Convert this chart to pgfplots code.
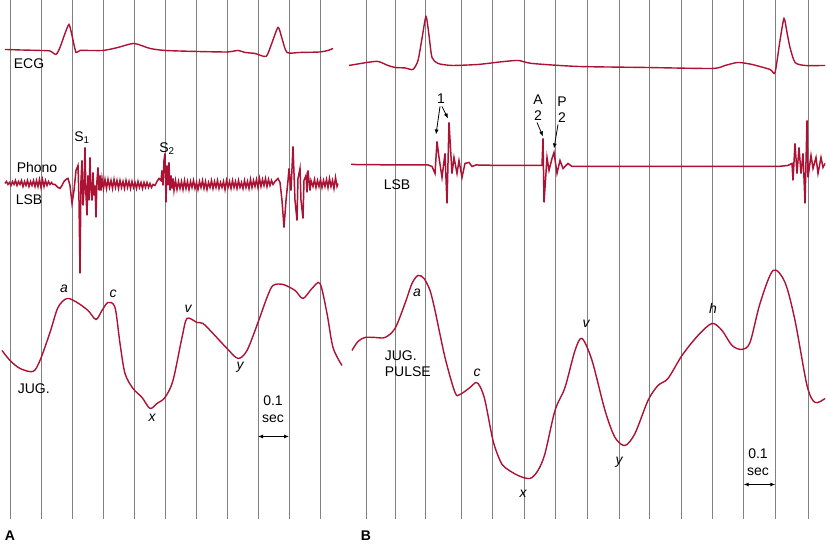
\documentclass[border=0pt]{standalone}
\usepackage{pgfplots}
\pgfplotsset{compat=1.18}
\usepackage{fontspec}
\setmainfont{Liberation Sans}
\usetikzlibrary{arrows.meta}
\definecolor{trace}{RGB}{172,18,52}
\definecolor{gridg}{RGB}{128,128,128}
\begin{document}
\fontsize{14}{16}\selectfont
\begin{tikzpicture}[every node/.style={font=\fontsize{14}{16}\selectfont}]
\begin{axis}[width=827pt,height=541pt,scale only axis,
  xmin=0,xmax=827,ymin=0,ymax=541,y dir=reverse,hide axis,clip=false]
\path (rel axis cs:0,0) rectangle (rel axis cs:1,1);
% grid lines
\addplot[ycomb,gridg,line width=0.9pt,mark=none] coordinates {
(10,519) (41,519) (72,519) (103,519) (134,519) (165,519) (196,519) (227,519) (258,519) (289,519) (320,519)
(366.3,519) (395.3,519) (425.3,519) (461,519) (492.3,519) (524.3,519) (555.3,519) (587.3,519) (619.3,519) (649.3,519) (681.3,519) (712.3,519) (743.7,519) (775.3,519) (808.3,519)};
% ===== Panel A =====
% ECG
\addplot[trace,line width=1.4pt,smooth,tension=0.4] coordinates {
(5,49) (20,49.5) (40,50) (50,50.5) (56,54) (60,47) (65,33) (69,24) (72,35) (76,52) (80,50) (103,50) (118,47) (134,43) (150,48) (165,50) (196,51) (227,51.5) (238,50) (245,52) (255,53) (266,56) (271,45) (278,27) (282,38) (287,52) (300,52) (320,51.5) (328,50) (333,48)};
% Phono
\addplot[trace,line width=1.5pt] coordinates {
(5,183) (6.5,181) (8,184) (9.5,182) (11,185) (12.5,181) (14,184) (15.5,180) (17,185) (18.5,181) (20,184) (21.5,180) (23,186) (24.5,181) (26,185) (27.5,180) (29,186) (30.5,181) (32,185) (33.5,180) (35,186) (36.5,180) (38,186) (39.5,179) (41,187) (42.5,179) (44,186) (45.5,180) (47,185) (48.5,181) (50,184) (51.5,182) (53,184) (55,184) (58,187) (60,188) (62,185) (64,181) (66,179) (68,178) (70,185) (72,203) (74,190) (76,170) (78,165) (79,200) (80,273) (81,180) (82,160) (83,205) (84,190) (85,147) (86,195) (87,215) (88,175) (89,200) (90,157) (91,190) (92,200) (93,172) (94,195) (95,185) (96,217) (97,180) (98,167) (99,190) (100,175) (101,190) (102,178)
(103.5,188) (105,179) (106.5,188) (108,179) (109.5,187) (111,180) (112.5,188) (114,179) (115.5,187) (117,180) (118.5,188) (120,180) (121.5,187) (123,181) (124.5,188) (126,180) (127.5,187) (129,181) (130.5,188) (132,181) (133.5,187) (135,182) (136.5,188) (138,181) (139.5,187) (141,182) (142.5,188) (144,182) (145.5,187) (147,182) (148.5,187) (150,183) (151.5,187) (153,184) (155,185) (157,181) (159,178) (161,180) (162,170) (163,185) (164,160) (165,153) (166,202) (167,165) (168,185) (169,162) (170,190) (171,175) (172,188) (173,178) (174,190) (175.5,180) (177,189) (178.5,181)
(180,188) (181.5,181) (183,189) (184.5,180) (186,188) (187.5,181) (189,189) (190.5,181) (192,187) (193.5,180) (195,188) (196.5,182) (198,189) (199.5,181) (201,187) (202.5,180) (204,188) (205.5,181) (207,189) (208.5,182) (210,187) (211.5,180) (213,188) (214.5,181) (216,187) (217.5,180) (219,188) (220.5,182) (222,187) (223.5,181) (225,189) (226.5,180) (228,187) (229.5,181) (231,188) (232.5,180) (234,187) (235.5,181) (237,188) (238.5,180) (240,187) (241.5,182) (243,188) (244.5,180) (246,187) (247.5,181) (249,188) (250.5,179) (252,187) (253.5,180) (255,186) (256.5,179) (258,187) (259.5,178) (261,186) (262.5,179) (264,185) (265.5,178) (267,186) (268.5,179) (270,185) (271.5,180) (273,184) (275,181)
(278,178) (280,182) (282,200) (284,227) (286,200) (288,180) (289,168) (291,190) (293,146) (295,200) (297,220) (298,178) (300,168) (301,200) (303,218) (304,180) (306,175) (307,192) (308,170) (310,190) (311,180) (313,186)
(314.5,179) (316,187) (317.5,180) (319,186) (320.5,179) (322,187) (323.5,180) (325,186) (326.5,179) (328,187) (329.5,178) (331,186) (332.5,180) (334,188) (335.5,177) (337,186) (338,183)};
% JUG A
\addplot[trace,line width=1.4pt,smooth,tension=0.5] coordinates {
(2,350) (10,360) (20,368) (33,371) (40,360) (50,332) (58,307) (67,298) (77,302) (88,310) (96,319) (102,310) (108,302) (115,307) (120,343) (125,373) (133,388) (142,397) (150,408) (157,403) (165,397) (173,380) (182,337) (187,318) (197,322) (203,323) (213,333) (227,348) (238,358) (247,350) (258,322) (267,297) (273,285) (283,284) (295,290) (303,298) (312,288) (320,283) (327,313) (333,347) (342,365)};
% labels A
\node at (axis cs:29,63) {ECG};
\node at (axis cs:37,167) {Phono};
\node at (axis cs:29,199) {LSB};
\node at (axis cs:82,137) {S\textsubscript{1}};
\node at (axis cs:167,148) {S\textsubscript{2}};
\node[anchor=west] at (axis cs:13,388) {JUG.};
\node at (axis cs:64,288) {\itshape a};
\node at (axis cs:113,293) {\itshape c};
\node at (axis cs:152,417) {\itshape x};
\node at (axis cs:188,308) {\itshape v};
\node at (axis cs:240,367) {\itshape y};
\node at (axis cs:273,400) {0.1};
\node at (axis cs:273,418) {sec};
\draw[{Latex[length=5pt,width=4pt]}-{Latex[length=5pt,width=4pt]},line width=0.9pt] (axis cs:258,436) -- (axis cs:289,436);
\node at (axis cs:10,535) {\bfseries A};
% ===== Panel B =====
\addplot[trace,line width=1.4pt,smooth,tension=0.4] coordinates {
(349,65) (358,63.5) (367,62) (378,61) (388,65) (395,67) (405,67.5) (413,69) (418,60) (422,38) (426,16) (429,35) (432,57) (438,63) (452,65) (478,64) (500,61.5) (518,60) (532,63) (578,66) (645,67) (712,68) (725,65) (738,62) (752,64) (770,69) (775,72) (780,40) (784,18) (787,32) (790,47) (795,62) (805,65) (825,65)};
\addplot[trace,line width=1.5pt] coordinates {
(351,164) (400,164.5) (428,164.5) (432,166) (435,173) (437,141) (439,157) (442,177) (445,153) (447,203) (449,122) (452,173) (454,157) (457,173) (459,160) (462,177) (465,163) (469,162) (472,166) (476,164.5) (500,165) (538,165) (542,165) (543,138) (544,202) (547,157) (549,170) (552,158) (554,152) (557,173) (560,160) (563,168) (568,163) (572,166) (575,166) (600,166) (650,166) (700,166) (778,166) (788,165) (792,163) (793,180) (795,143) (797,173) (799,147) (801,173) (803,153) (805,203) (807,120) (808,177) (811,155) (813,168) (816,157) (818,173) (821,157) (823,167) (825,163)};
\addplot[trace,line width=1.4pt,smooth,tension=0.5] coordinates {
(352,350) (358,341) (365,337) (375,337) (385,337) (395,328) (405,303) (412,283) (418,275) (424,278) (430,290) (435,310) (445,357) (455,392) (460,394) (470,387) (476,382) (480,386) (485,400) (493,440) (500,460) (505,467) (518,475) (530,478) (538,470) (545,453) (555,410) (565,387) (575,350) (582,338) (592,360) (605,410) (615,437) (625,445) (635,433) (648,400) (658,385) (668,378) (682,355) (698,335) (712,323) (722,330) (732,345) (742,349) (750,342) (760,303) (773,270) (785,282) (795,320) (807,385) (815,402) (825,398)};
% labels B
\node at (axis cs:441,98) {1};
\draw[-{Latex[length=5pt,width=4pt]},line width=0.8pt] (axis cs:440,106) -- (axis cs:436,134);
\draw[-{Latex[length=5pt,width=4pt]},line width=0.8pt] (axis cs:442,106) -- (axis cs:448,118);
\node at (axis cs:538,99) {A};
\node at (axis cs:538,115) {2};
\draw[-{Latex[length=5pt,width=4pt]},line width=0.8pt] (axis cs:537,122) -- (axis cs:543,136);
\node at (axis cs:562,101) {P};
\node at (axis cs:562,117) {2};
\draw[-{Latex[length=5pt,width=4pt]},line width=0.8pt] (axis cs:558,124) -- (axis cs:554,148);
\node at (axis cs:397,184) {LSB};
\node[anchor=west,align=left] at (axis cs:380,363) {JUG.\\PULSE};
\node at (axis cs:417,292) {\itshape a};
\node at (axis cs:477,372) {\itshape c};
\node at (axis cs:523,493) {\itshape x};
\node at (axis cs:586,323) {\itshape v};
\node at (axis cs:619,462) {\itshape y};
\node at (axis cs:713,308) {\itshape h};
\node at (axis cs:758,453) {0.1};
\node at (axis cs:758,471) {sec};
\draw[{Latex[length=5pt,width=4pt]}-{Latex[length=5pt,width=4pt]},line width=0.9pt] (axis cs:743.7,484) -- (axis cs:775.3,484);
\node at (axis cs:366,535) {\bfseries B};
\end{axis}
\end{tikzpicture}
\end{document}
